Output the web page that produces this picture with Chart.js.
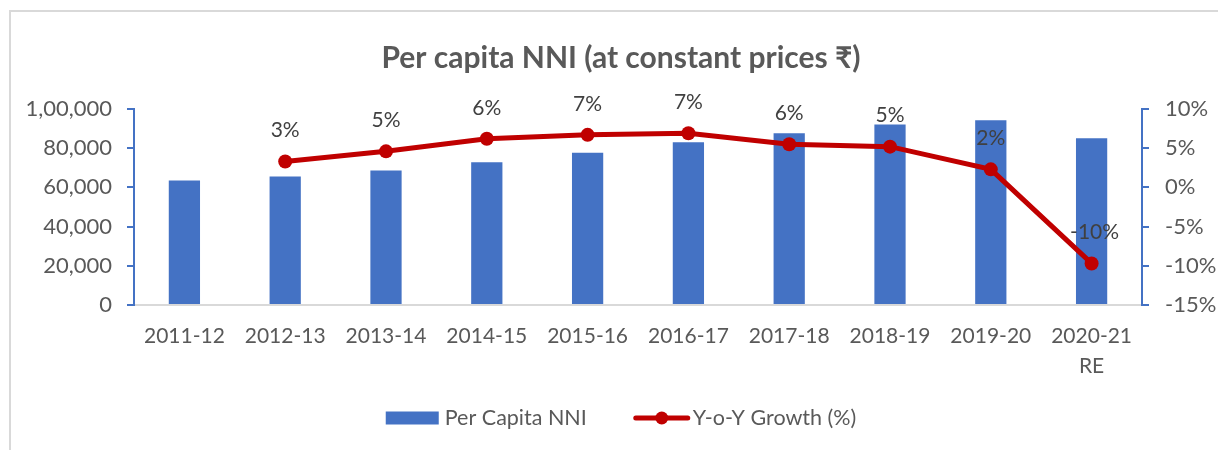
<!DOCTYPE html>
<html lang="en">
<head>
<meta charset="utf-8">
<title>Per capita NNI</title>
<script src="https://cdn.jsdelivr.net/npm/chart.js@4.4.0/dist/chart.umd.min.js"></script>
<style>
    html, body { margin: 0; padding: 0; background: #fff; overflow: hidden; width: 1218px; height: 450px; }
    #marco { position: absolute; left: 9px; top: 10px; width: 1400px; height: 600px;
             border-left: 2px solid #d9d9d9; border-top: 2px solid #d9d9d9; }
    #contenedor { position: absolute; left: 0; top: 0; width: 1232px; height: 450px; }
</style>
</head>
<body>
<div id="marco"></div>
<div id="contenedor"><canvas id="grafico-nni" width="1232" height="450"></canvas></div>
<script>
// Datos
const categorias = ['2011-12', '2012-13', '2013-14', '2014-15', '2015-16',
                    '2016-17', '2017-18', '2018-19', '2019-20', ['2020-21', 'RE']];
const ingresoPerCapita = [63462, 65538, 68572, 72805, 77659, 83003, 87586, 92133, 94270, 85110];
const crecimientoAnual = [null, 3.3, 4.6, 6.2, 6.7, 6.9, 5.5, 5.2, 2.3, -9.7];
const ticksIzquierda = [0, 20000, 40000, 60000, 80000, 100000];
const ticksDerecha = [-15, -10, -5, 0, 5, 10];

const AZUL = '#4472C4';
const ROJO = '#C00000';
const GRIS_TEXTO = '#595959';
const FUENTE = 'Lato';

// Formato indio: 1,00,000
function formatoIndio(valor) {
    const s = String(Math.round(valor));
    if (s.length <= 3) return s;
    const ultimos = s.slice(-3);
    const resto = s.slice(0, -3).replace(/\B(?=(\d{2})+(?!\d))/g, ',');
    return resto + ',' + ultimos;
}

// ---------- Etiquetas de porcentaje sobre la línea ----------
const etiquetasPorcentaje = {
    id: 'etiquetasPorcentaje',
    afterDatasetsDraw(chart) {
        const ctx = chart.ctx;
        const meta = chart.getDatasetMeta(1);
        ctx.save();
        ctx.font = `21px ${FUENTE}`;
        ctx.fillStyle = '#404040';
        ctx.textAlign = 'center';
        ctx.textBaseline = 'middle';
        meta.data.forEach((punto, i) => {
            const v = crecimientoAnual[i];
            if (v === null) return;
            ctx.fillText(Math.round(v) + '%', punto.x + (v < 0 ? 3 : 0), punto.y - 31);
        });
        ctx.restore();
    }
};

// ---------- Leyenda dibujada a mano (barra + línea con marcador) ----------
const leyendaInferior = {
    id: 'leyendaInferior',
    afterDraw(chart) {
        const ctx = chart.ctx;
        const y = 418;
        const textoBarra = chart.data.datasets[0].label;
        const textoLinea = chart.data.datasets[1].label;
        ctx.save();
        ctx.font = `21.5px ${FUENTE}`;
        ctx.textBaseline = 'middle';
        const anchoBarra = 53 + 6 + ctx.measureText(textoBarra).width;
        const anchoLinea = 56 + 3 + ctx.measureText(textoLinea).width;
        const total = anchoBarra + 47 + anchoLinea;
        let x = (10 + chart.width) / 2 - total / 2;

        ctx.fillStyle = AZUL;
        ctx.fillRect(x, y - 6.5, 53, 13);
        ctx.fillStyle = GRIS_TEXTO;
        ctx.fillText(textoBarra, x + 59, y);
        x += anchoBarra + 47;

        ctx.strokeStyle = ROJO;
        ctx.lineWidth = 5;
        ctx.lineCap = 'round';
        ctx.beginPath();
        ctx.moveTo(x + 2, y);
        ctx.lineTo(x + 54, y);
        ctx.stroke();
        ctx.fillStyle = ROJO;
        ctx.beginPath();
        ctx.arc(x + 28, y, 6.5, 0, Math.PI * 2);
        ctx.fill();
        ctx.fillStyle = GRIS_TEXTO;
        ctx.fillText(textoLinea, x + 59, y);
        ctx.restore();
    }
};

const ctx = document.getElementById('grafico-nni').getContext('2d');
new Chart(ctx, {
    type: 'bar',
    data: {
        labels: categorias,
        datasets: [
            {
                type: 'bar',
                label: 'Per Capita NNI',
                data: ingresoPerCapita,
                backgroundColor: AZUL,
                borderWidth: 0,
                barPercentage: 0.31,
                categoryPercentage: 1,
                yAxisID: 'yIzq',
                order: 1
            },
            {
                type: 'line',
                label: 'Y-o-Y Growth (%)',
                data: crecimientoAnual,
                borderColor: ROJO,
                borderWidth: 5,
                backgroundColor: ROJO,
                pointRadius: 7,
                pointBackgroundColor: ROJO,
                pointBorderColor: ROJO,
                pointBorderWidth: 0,
                tension: 0,
                fill: false,
                yAxisID: 'yDer',
                order: 0
            }
        ]
    },
    options: {
        responsive: false,
        animation: false,
        events: [],
        layout: { padding: { left: 10, top: 0, right: 0, bottom: 0 } },
        plugins: {
            legend: { display: false },
            tooltip: { enabled: false },
            title: {
                display: true,
                text: 'Per capita NNI (at constant prices ₹)',
                color: GRIS_TEXTO,
                font: { family: FUENTE, size: 30, weight: 'bold', lineHeight: 1.2 },
                padding: { top: 40, bottom: 33 }
            }
        },
        scales: {
            x: {
                grid: { display: true, drawOnChartArea: false, drawTicks: false },
                border: { display: true, color: '#d9d9d9', width: 2 },
                ticks: {
                    color: GRIS_TEXTO,
                    padding: 16,
                    maxRotation: 0,
                    autoSkip: false,
                    font: { family: FUENTE, size: 21, lineHeight: 1.45 }
                },
                afterFit: scale => { scale.height = 145; }
            },
            yIzq: {
                position: 'left',
                min: 0,
                max: 100000,
                afterBuildTicks: scale => { scale.ticks = ticksIzquierda.map(v => ({ value: v })); },
                grid: { drawOnChartArea: false, drawTicks: true, tickLength: 7, color: AZUL, lineWidth: 2 },
                border: { display: true, color: AZUL, width: 2 },
                ticks: {
                    color: GRIS_TEXTO,
                    padding: 15,
                    font: { family: FUENTE, size: 22 },
                    callback: value => formatoIndio(value)
                },
                afterFit: scale => { scale.width = 124; }
            },
            yDer: {
                position: 'right',
                min: -15,
                max: 10,
                afterBuildTicks: scale => { scale.ticks = ticksDerecha.map(v => ({ value: v })); },
                grid: { drawOnChartArea: false, drawTicks: true, tickLength: 7, color: AZUL, lineWidth: 2 },
                border: { display: true, color: AZUL, width: 2 },
                ticks: {
                    color: GRIS_TEXTO,
                    padding: 16,
                    font: { family: FUENTE, size: 22 },
                    callback: value => value + '%'
                },
                afterFit: scale => { scale.width = 90; }
            }
        }
    },
    plugins: [etiquetasPorcentaje, leyendaInferior]
});
</script>
</body>
</html>
